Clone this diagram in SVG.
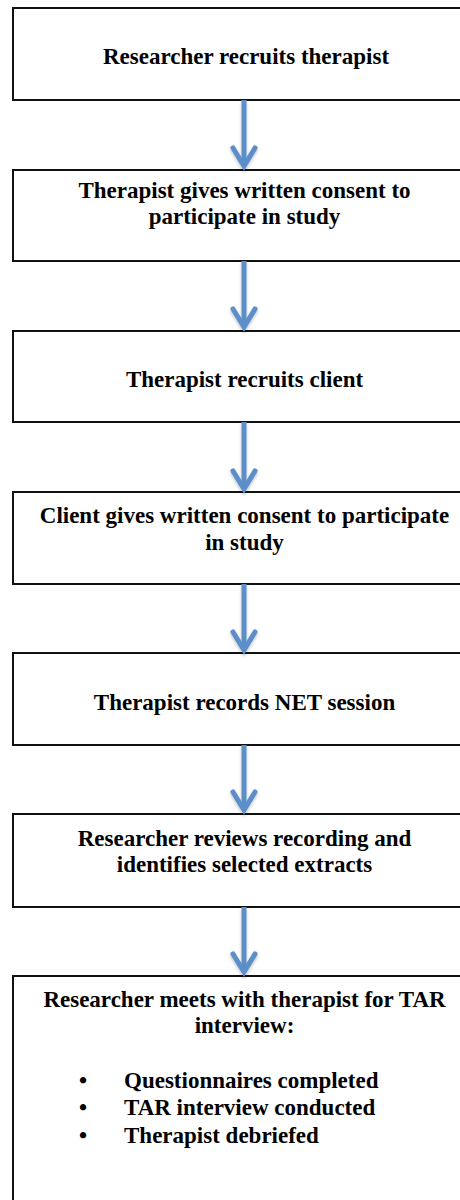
<svg xmlns="http://www.w3.org/2000/svg" width="460" height="1200" viewBox="0 0 460 1200">
<defs>
<filter id="sh" x="-50%" y="-50%" width="200%" height="200%"><feDropShadow dx="0" dy="2" stdDeviation="1.5" flood-color="#000" flood-opacity="0.25"/></filter>
</defs>
<style>
.box{fill:#fff;stroke:#111;stroke-width:2}
.t{font-family:"Liberation Serif","Times New Roman",serif;font-weight:bold;font-size:23px;fill:#000;text-anchor:middle}
.tl{font-family:"Liberation Serif","Times New Roman",serif;font-weight:bold;font-size:23px;fill:#000}
.ln{stroke:#5b8fca;stroke-width:5;fill:none}
.hd{stroke:#5b8fca;stroke-width:5;fill:none;stroke-linecap:round;stroke-linejoin:miter}
</style>
<rect width="460" height="1200" fill="#fff"/>
<g id="n1"><rect class="box" x="13" y="8" width="480" height="92"/><text class="t" x="246" y="64">Researcher recruits therapist</text></g>
<g id="n2"><rect class="box" x="13" y="170" width="480" height="91"/><text class="t" x="244.5" y="198">Therapist gives written consent to</text><text class="t" x="244.5" y="224">participate in study</text></g>
<g id="n3"><rect class="box" x="13" y="331" width="480" height="91"/><text class="t" x="244.5" y="387">Therapist recruits client</text></g>
<g id="n4"><rect class="box" x="13" y="492" width="480" height="92"/><text class="t" x="244.5" y="523">Client gives written consent to participate</text><text class="t" x="244.5" y="550">in study</text></g>
<g id="n5"><rect class="box" x="13" y="653" width="480" height="92"/><text class="t" x="244.5" y="710">Therapist records NET session</text></g>
<g id="n6"><rect class="box" x="13" y="814" width="480" height="93"/><text class="t" x="244.5" y="846">Researcher reviews recording and</text><text class="t" x="244.5" y="872">identifies selected extracts</text></g>
<g id="n7"><rect class="box" x="13" y="976" width="480" height="260"/><text class="t" x="244.5" y="1007">Researcher meets with therapist for TAR</text><text class="t" x="244.5" y="1033">interview:</text>
<text class="tl" x="79" y="1088">•</text><text class="tl" x="124" y="1088">Questionnaires completed</text>
<text class="tl" x="79" y="1115">•</text><text class="tl" x="124" y="1115">TAR interview conducted</text>
<text class="tl" x="79" y="1143">•</text><text class="tl" x="124" y="1143">Therapist debriefed</text></g>
<g id="connectors" filter="url(#sh)">
<path class="ln" d="M244 100V166"/><path class="hd" d="M233 148L244 166L255 148"/>
<path class="ln" d="M244 261V327"/><path class="hd" d="M233 309L244 327L255 309"/>
<path class="ln" d="M244 422V489"/><path class="hd" d="M233 471L244 489L255 471"/>
<path class="ln" d="M244 584V650"/><path class="hd" d="M233 632L244 650L255 632"/>
<path class="ln" d="M244 745V810"/><path class="hd" d="M233 792L244 810L255 792"/>
<path class="ln" d="M244 907V972"/><path class="hd" d="M233 954L244 972L255 954"/>
</g>
</svg>
